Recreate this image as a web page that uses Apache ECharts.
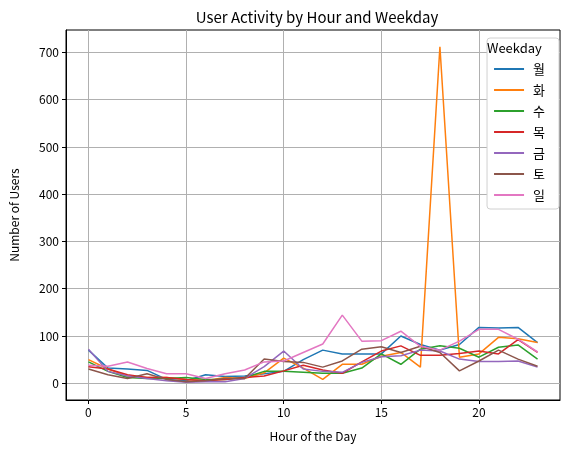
<!DOCTYPE html>
<html>
<head>
    <meta charset="utf-8">
    <title>ECharts</title>
    <script src="https://cdn.jsdelivr.net/npm/echarts@6/dist/echarts.min.js"></script>
</head>
<body style="margin:0">
    <div id="main" style="width: 569px; height:455px;"></div>

    <script type="text/javascript">
        // 数据
        var hours = [0, 1, 2, 3, 4, 5, 6, 7, 8, 9, 10, 11, 12, 13, 14, 15, 16, 17, 18, 19, 20, 21, 22, 23];
        var weekdays = ['월', '화', '수', '목', '금', '토', '일'];
        var mon = [70, 32, 30, 27, 8, 5, 18, 14, 15, 20, 25, 50, 70, 62, 62, 62, 100, 82, 70, 82, 118, 117, 118, 86];
        var tue = [50, 30, 15, 12, 12, 8, 5, 12, 10, 22, 53, 32, 8, 40, 40, 57, 65, 34, 712, 55, 62, 97, 94, 86];
        var wed = [45, 25, 12, 10, 10, 12, 8, 8, 12, 25, 25, 23, 21, 21, 32, 62, 40, 72, 79, 74, 55, 76, 81, 51];
        var thu = [35, 30, 18, 12, 12, 8, 5, 8, 12, 15, 26, 38, 28, 21, 45, 68, 79, 59, 59, 63, 68, 62, 92, 65];
        var fri = [72, 25, 15, 10, 5, 2, 3, 3, 10, 35, 68, 30, 25, 23, 44, 56, 58, 70, 68, 51, 46, 46, 47, 34];
        var sat = [30, 18, 10, 20, 8, 3, 5, 10, 10, 51, 46, 44, 34, 47, 72, 77, 65, 78, 65, 26, 47, 70, 51, 36];
        var sun = [38, 36, 45, 31, 20, 20, 10, 20, 28, 45, 47, 65, 83, 144, 89, 90, 110, 78, 70, 89, 114, 114, 93, 66];
        var xTicks = [0, 5, 10, 15, 20];
        var yTicks = [0, 100, 200, 300, 400, 500, 600, 700];

        var colors = ['#1f77b4', '#ff7f0e', '#2ca02c', '#d62728', '#9467bd', '#8c564b', '#e377c2'];
        var values = [mon, tue, wed, thu, fri, sat, sun];
        var font = '"Noto Sans CJK KR", "Noto Sans", sans-serif';

        var myChart = echarts.init(document.getElementById('main'));

        var series = weekdays.map(function (name, i) {
            return {
                name: name,
                type: 'line',
                showSymbol: false,
                animation: false,
                lineStyle: { width: 1.5, color: colors[i] },
                itemStyle: { color: colors[i] },
                data: hours.map(function (h, j) { return [h, values[i][j]]; })
            };
        });

        var option = {
            animation: false,
            textStyle: { fontFamily: font },
            title: {
                text: 'User Activity by Hour and Weekday',
                left: 312,
                textAlign: 'center',
                top: 5,
                textStyle: { fontSize: 15, fontWeight: 'normal', color: '#000', fontFamily: font }
            },
            grid: {
                left: 65, right: 9, top: 30, bottom: 55,
                show: true, borderColor: '#000', borderWidth: 1
            },
            legend: {
                data: weekdays,
                orient: 'vertical',
                right: 10,
                top: 38,
                padding: [24, 14, 7, 7],
                itemWidth: 30,
                itemHeight: 2,
                itemGap: 7,
                icon: 'rect',
                backgroundColor: '#fff',
                borderColor: '#d0d0d0',
                borderWidth: 1,
                borderRadius: 3,
                textStyle: { fontSize: 13, color: '#000', fontFamily: font, padding: [0, 0, 0, 4], lineHeight: 14 }
            },
            graphic: [{
                type: 'text',
                z: 100,
                left: 487,
                top: 42,
                style: { text: 'Weekday', fontSize: 13, fill: '#000', fontFamily: font }
            }],
            xAxis: {
                type: 'value',
                min: -1.15,
                max: 24.15,
                name: 'Hour of the Day',
                nameLocation: 'middle',
                nameGap: 30,
                nameTextStyle: { fontSize: 12, color: '#000' },
                axisLine: { show: true, onZero: false, lineStyle: { color: '#000' } },
                axisTick: { show: true, customValues: xTicks, length: 4, lineStyle: { color: '#000' } },
                axisLabel: { customValues: xTicks, color: '#000', fontSize: 12, margin: 6 },
                splitLine: { show: true, lineStyle: { color: '#b0b0b0', width: 1 } }
            },
            yAxis: {
                type: 'value',
                min: -35.6,
                max: 747.6,
                name: 'Number of Users',
                nameLocation: 'middle',
                nameGap: 46,
                nameTextStyle: { fontSize: 12, color: '#000' },
                axisLine: { show: true, onZero: false, lineStyle: { color: '#000' } },
                axisTick: { show: true, customValues: yTicks, length: 4, lineStyle: { color: '#000' } },
                axisLabel: { customValues: yTicks, color: '#000', fontSize: 12, margin: 7 },
                splitLine: { show: true, lineStyle: { color: '#b0b0b0', width: 1 } }
            },
            series: series
        };

        myChart.setOption(option);
    </script>
</body>
</html>
